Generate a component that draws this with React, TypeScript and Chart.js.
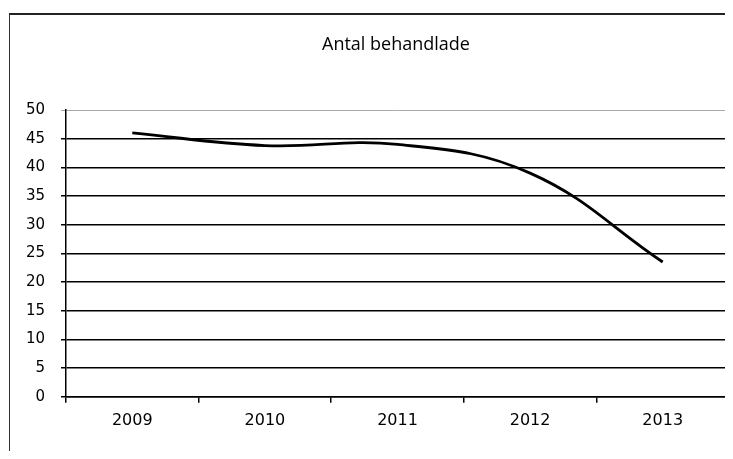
import React, { useEffect, useRef } from "react";
import { Chart, registerables } from "chart.js";

Chart.register(...registerables);

const TITLE = "Antal behandlade";
const years = ["2009", "2010", "2011", "2012", "2013"];
const treated = [46, 43.8, 44, 39, 23.5];
const yMin = 0;
const yMax = 50;
const yStep = 5;

const frameAndTitle = {
  id: "frameAndTitle",
  afterDraw(chart: any) {
    const { ctx, chartArea } = chart;
    ctx.save();
    ctx.strokeStyle = "#555";
    ctx.lineWidth = 1;
    ctx.beginPath();
    ctx.moveTo(Math.round(chartArea.right) + 0.5, chartArea.top);
    ctx.lineTo(Math.round(chartArea.right) + 0.5, chartArea.bottom);
    ctx.stroke();
    ctx.fillStyle = "#000";
    ctx.font = "18px 'Open Sans', 'Liberation Sans', sans-serif";
    ctx.textAlign = "center";
    ctx.textBaseline = "middle";
    ctx.fillText(TITLE, 396, 45);
    ctx.restore();
  },
};

export default function App() {
  const ref = useRef<HTMLCanvasElement>(null);
  useEffect(() => {
    if (!ref.current) return;
    const chart = new Chart(ref.current, {
      type: "line",
      data: {
        labels: years,
        datasets: [
          {
            label: TITLE,
            data: treated,
            borderColor: "#000",
            borderWidth: 2.8,
            pointRadius: 0,
            tension: 0.4,
            fill: false,
          },
        ],
      },
      options: {
        animation: false,
        responsive: false,
        layout: { padding: { top: 110, left: 0, right: 4, bottom: 21 } },
        plugins: {
          legend: { display: false },
          title: { display: false },
          tooltip: { enabled: false },
        },
        scales: {
          x: {
            offset: true,
            grid: {
              offset: true,
              drawOnChartArea: false,
              drawTicks: true,
              tickLength: 6,
              color: "#000",
              lineWidth: 1.5,
            },
            border: { display: true, color: "#000", width: 1.5 },
            ticks: {
              color: "#000",
              padding: 8,
              font: { family: "'DejaVu Sans', Verdana, sans-serif", size: 16 },
            },
          },
          y: {
            min: yMin,
            max: yMax,
            afterFit(scale: any) {
              scale.width = 66;
            },
            grid: {
              color: (c: any) => (c.tick && c.tick.value === yMax ? "#aaa" : "#000"),
              lineWidth: (c: any) => (c.tick && c.tick.value === yMax ? 1 : 1.5),
              tickLength: 5,
            },
            border: { display: true, color: "#000", width: 1.5 },
            ticks: {
              stepSize: yStep,
              color: "#000",
              padding: 16,
              font: { family: "'DejaVu Sans', Verdana, sans-serif", size: 15 },
            },
          },
        },
      },
      plugins: [frameAndTitle],
    });
    return () => chart.destroy();
  }, []);

  return (
    <div style={{ position: "relative", width: 733, height: 459, margin: -8, overflow: "hidden", background: "#fff" }}>
      <div
        style={{
          position: "absolute",
          left: 9,
          top: 13,
          width: 760,
          height: 480,
          borderLeft: "1px solid #333",
          borderTop: "2px solid #222",
        }}
      />
      <canvas ref={ref} width={733} height={459} style={{ position: "absolute", left: 0, top: 0 }} />
    </div>
  );
}
